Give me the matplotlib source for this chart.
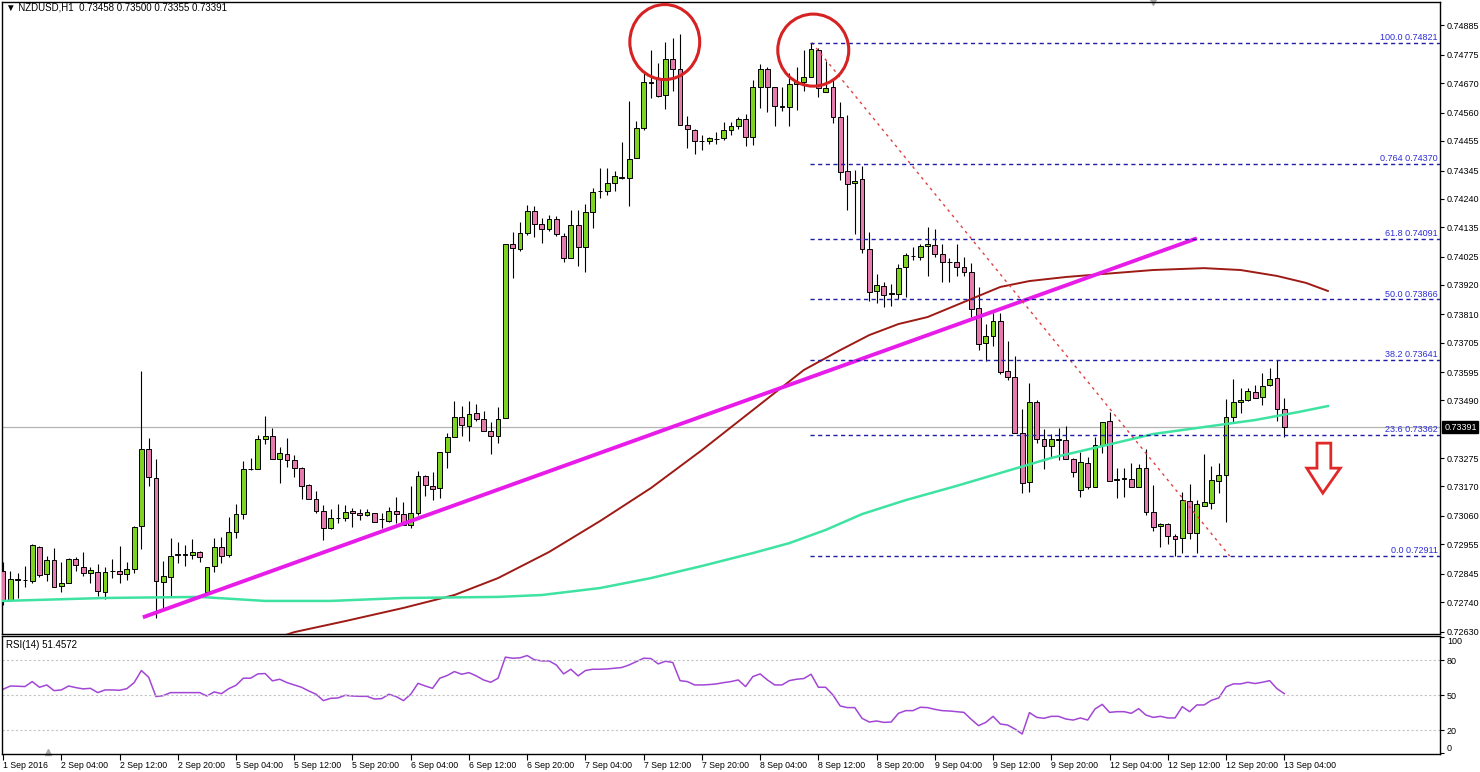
import numpy as np
import matplotlib
matplotlib.use("Agg")
import matplotlib.pyplot as plt
from matplotlib.patches import Ellipse, Polygon

plt.rcParams['font.family'] = ['Liberation Sans', 'DejaVu Sans']

# NZDUSD H1 candles, 1 Sep 20:00 .. 13 Sep 04:00
opens = [
    0.72856, 0.72747, 0.72824, 0.72821, 0.72819, 0.72946, 0.72844, 0.72896, 0.72800, 0.72812,
    0.72899, 0.72871, 0.72847, 0.72851, 0.72776, 0.72855, 0.72854, 0.72843, 0.72864, 0.73023,
    0.73308, 0.73200, 0.72815, 0.72834, 0.72916, 0.72917, 0.72915, 0.72927, 0.72778, 0.72875,
    0.72946, 0.72915, 0.73001, 0.73066, 0.73234, 0.73234, 0.73345, 0.73358, 0.73271, 0.73289,
    0.73268, 0.73240, 0.73175, 0.73122, 0.73080, 0.73014, 0.73051, 0.73051, 0.73078, 0.73072,
    0.73064, 0.73070, 0.73047, 0.73042, 0.73080, 0.73067, 0.73026, 0.73072, 0.73209, 0.73171,
    0.73163, 0.73297, 0.73353, 0.73429, 0.73396, 0.73442, 0.73420, 0.73377, 0.73359, 0.73423,
    0.74071, 0.74052, 0.74112, 0.74196, 0.74146, 0.74128, 0.74164, 0.74102, 0.74019, 0.74143,
    0.74060, 0.74192, 0.74268, 0.74270, 0.74298, 0.74320, 0.74316, 0.74391, 0.74502, 0.74674,
    0.74685, 0.74627, 0.74759, 0.74723, 0.74515, 0.74496, 0.74456, 0.74455, 0.74462, 0.74465,
    0.74496, 0.74511, 0.74536, 0.74471, 0.74655, 0.74722, 0.74655, 0.74584, 0.74580, 0.74666,
    0.74676, 0.74694, 0.74794, 0.74639, 0.74655, 0.74546, 0.74344, 0.74298, 0.74314, 0.74053,
    0.73897, 0.73916, 0.73889, 0.73886, 0.73987, 0.74028, 0.74022, 0.74065, 0.74068, 0.74034,
    0.74004, 0.74004, 0.73985, 0.73969, 0.73833, 0.73705, 0.73730, 0.73785, 0.73600, 0.73576,
    0.73368, 0.73185, 0.73483, 0.73345, 0.73321, 0.73345, 0.73343, 0.73271, 0.73157, 0.73256,
    0.73169, 0.73324, 0.73413, 0.73195, 0.73199, 0.73196, 0.73169, 0.73237, 0.73074, 0.73023,
    0.73029, 0.72987, 0.72979, 0.73116, 0.72998, 0.73097, 0.73110, 0.73191, 0.73212, 0.73427,
    0.73483, 0.73491, 0.73522, 0.73501, 0.73547, 0.73572, 0.73458,
]
highs = [
    0.72890, 0.72855, 0.72847, 0.72874, 0.72955, 0.72948, 0.72911, 0.72942, 0.72888, 0.72902,
    0.72908, 0.72927, 0.72871, 0.72881, 0.72871, 0.72899, 0.72948, 0.72890, 0.73023, 0.73599,
    0.73351, 0.73272, 0.72892, 0.72979, 0.72963, 0.72952, 0.72973, 0.72931, 0.72871, 0.72977,
    0.72981, 0.73057, 0.73104, 0.73266, 0.73275, 0.73362, 0.73432, 0.73386, 0.73315, 0.73349,
    0.73287, 0.73243, 0.73179, 0.73153, 0.73101, 0.73085, 0.73104, 0.73101, 0.73091, 0.73085,
    0.73085, 0.73072, 0.73070, 0.73094, 0.73129, 0.73111, 0.73171, 0.73227, 0.73212, 0.73222,
    0.73297, 0.73368, 0.73488, 0.73470, 0.73489, 0.73475, 0.73451, 0.73408, 0.73464, 0.74071,
    0.74115, 0.74155, 0.74217, 0.74213, 0.74168, 0.74180, 0.74176, 0.74114, 0.74198, 0.74198,
    0.74221, 0.74281, 0.74354, 0.74356, 0.74345, 0.74450, 0.74604, 0.74530, 0.74713, 0.74794,
    0.74744, 0.74822, 0.74837, 0.74853, 0.74549, 0.74500, 0.74478, 0.74471, 0.74490, 0.74527,
    0.74524, 0.74546, 0.74555, 0.74682, 0.74741, 0.74732, 0.74657, 0.74657, 0.74707, 0.74732,
    0.74794, 0.74821, 0.74800, 0.74753, 0.74688, 0.74599, 0.74552, 0.74347, 0.74362, 0.74118,
    0.73960, 0.73932, 0.73923, 0.73998, 0.74040, 0.74062, 0.74071, 0.74136, 0.74128, 0.74071,
    0.74019, 0.74071, 0.74025, 0.74002, 0.73911, 0.73773, 0.73814, 0.73816, 0.73711, 0.73656,
    0.73458, 0.73554, 0.73491, 0.73382, 0.73364, 0.73388, 0.73396, 0.73275, 0.73297, 0.73278,
    0.73355, 0.73411, 0.73448, 0.73237, 0.73237, 0.73258, 0.73253, 0.73308, 0.73175, 0.73035,
    0.73035, 0.72992, 0.73148, 0.73178, 0.73119, 0.73289, 0.73246, 0.73256, 0.73494, 0.73568,
    0.73535, 0.73535, 0.73547, 0.73593, 0.73609, 0.73640, 0.73500,
]
lows = [
    0.72729, 0.72745, 0.72754, 0.72797, 0.72812, 0.72834, 0.72819, 0.72795, 0.72778, 0.72812,
    0.72856, 0.72837, 0.72809, 0.72762, 0.72750, 0.72828, 0.72812, 0.72822, 0.72847, 0.72937,
    0.73171, 0.72679, 0.72716, 0.72762, 0.72884, 0.72874, 0.72899, 0.72888, 0.72778, 0.72853,
    0.72884, 0.72908, 0.72977, 0.73049, 0.73231, 0.73234, 0.73327, 0.73271, 0.73182, 0.73241,
    0.73206, 0.73122, 0.73122, 0.73070, 0.72971, 0.73010, 0.73035, 0.73041, 0.73018, 0.73045,
    0.73060, 0.73036, 0.73014, 0.73039, 0.73035, 0.73026, 0.73016, 0.73064, 0.73134, 0.73119,
    0.73128, 0.73237, 0.73353, 0.73359, 0.73339, 0.73413, 0.73377, 0.73289, 0.73333, 0.73423,
    0.73944, 0.74047, 0.74105, 0.74099, 0.74077, 0.74121, 0.74102, 0.74004, 0.74019, 0.73990,
    0.73967, 0.74130, 0.74244, 0.74254, 0.74269, 0.74313, 0.74214, 0.74391, 0.74496, 0.74614,
    0.74620, 0.74574, 0.74642, 0.74515, 0.74428, 0.74406, 0.74422, 0.74444, 0.74444, 0.74459,
    0.74478, 0.74500, 0.74438, 0.74440, 0.74579, 0.74562, 0.74512, 0.74567, 0.74512, 0.74571,
    0.74642, 0.74694, 0.74620, 0.74639, 0.74521, 0.74310, 0.74198, 0.74109, 0.74037, 0.73861,
    0.73851, 0.73836, 0.73842, 0.73867, 0.73876, 0.74012, 0.74012, 0.73954, 0.74022, 0.73929,
    0.73932, 0.73953, 0.73953, 0.73801, 0.73678, 0.73638, 0.73692, 0.73587, 0.73566, 0.73368,
    0.73144, 0.73150, 0.73333, 0.73235, 0.73275, 0.73268, 0.73271, 0.73206, 0.73132, 0.73159,
    0.73169, 0.73295, 0.73191, 0.73126, 0.73129, 0.73169, 0.73169, 0.73064, 0.73005, 0.72943,
    0.72956, 0.72911, 0.72923, 0.72974, 0.72921, 0.73097, 0.73085, 0.73147, 0.73039, 0.73407,
    0.73444, 0.73489, 0.73498, 0.73473, 0.73544, 0.73414, 0.73355,
]
closes = [
    0.72747, 0.72824, 0.72822, 0.72822, 0.72951, 0.72840, 0.72896, 0.72797, 0.72812, 0.72899,
    0.72876, 0.72847, 0.72858, 0.72781, 0.72851, 0.72857, 0.72843, 0.72864, 0.73020, 0.73308,
    0.73204, 0.72819, 0.72838, 0.72912, 0.72917, 0.72916, 0.72927, 0.72908, 0.72869, 0.72946,
    0.72913, 0.73001, 0.73066, 0.73234, 0.73236, 0.73345, 0.73358, 0.73271, 0.73293, 0.73268,
    0.73238, 0.73171, 0.73122, 0.73080, 0.73014, 0.73051, 0.73052, 0.73076, 0.73070, 0.73064,
    0.73076, 0.73036, 0.73048, 0.73080, 0.73066, 0.73026, 0.73072, 0.73209, 0.73175, 0.73159,
    0.73297, 0.73353, 0.73429, 0.73398, 0.73438, 0.73420, 0.73377, 0.73359, 0.73420, 0.74071,
    0.74058, 0.74112, 0.74196, 0.74146, 0.74128, 0.74164, 0.74108, 0.74019, 0.74143, 0.74060,
    0.74192, 0.74267, 0.74270, 0.74298, 0.74325, 0.74318, 0.74388, 0.74505, 0.74674, 0.74672,
    0.74623, 0.74759, 0.74723, 0.74515, 0.74499, 0.74456, 0.74455, 0.74467, 0.74464, 0.74496,
    0.74512, 0.74536, 0.74471, 0.74655, 0.74722, 0.74655, 0.74585, 0.74582, 0.74666, 0.74676,
    0.74694, 0.74796, 0.74651, 0.74653, 0.74546, 0.74341, 0.74294, 0.74307, 0.74053, 0.73894,
    0.73919, 0.73882, 0.73887, 0.73984, 0.74031, 0.74027, 0.74065, 0.74071, 0.74035, 0.74004,
    0.74003, 0.73985, 0.73969, 0.73829, 0.73699, 0.73731, 0.73785, 0.73597, 0.73576, 0.73368,
    0.73184, 0.73485, 0.73345, 0.73321, 0.73345, 0.73343, 0.73271, 0.73222, 0.73260, 0.73169,
    0.73324, 0.73411, 0.73191, 0.73197, 0.73201, 0.73169, 0.73237, 0.73074, 0.73018, 0.73029,
    0.72987, 0.72974, 0.73119, 0.72998, 0.73103, 0.73111, 0.73194, 0.73212, 0.73429, 0.73485,
    0.73491, 0.73526, 0.73500, 0.73545, 0.73570, 0.73458, 0.73391,
]

rsi = [
    55.2, 58.0, 57.8, 57.5, 61.8, 56.9, 58.9, 54.0, 54.6, 58.0,
    56.6, 55.5, 56.0, 52.3, 54.6, 54.6, 54.3, 55.7, 60.9, 71.3,
    65.5, 48.9, 49.7, 52.3, 52.3, 52.3, 52.3, 52.3, 49.4, 52.9,
    51.4, 55.7, 58.6, 64.7, 64.7, 68.4, 68.7, 62.4, 63.8, 60.9,
    58.9, 56.9, 53.7, 50.9, 45.4, 47.4, 47.7, 50.0, 49.4, 49.1,
    49.1, 46.8, 47.1, 50.9, 48.9, 45.4, 50.9, 60.3, 58.0, 56.0,
    64.7, 67.0, 70.4, 68.1, 69.5, 66.7, 63.2, 61.2, 64.7, 82.8,
    81.9, 82.2, 84.2, 80.5, 79.6, 79.6, 76.1, 68.4, 72.4, 66.7,
    71.3, 72.4, 72.4, 72.7, 73.3, 73.9, 76.1, 79.0, 81.9, 81.6,
    77.0, 79.3, 78.2, 62.6, 61.8, 58.9, 58.9, 59.2, 59.8, 60.9,
    61.8, 63.2, 57.5, 66.1, 68.4, 63.2, 58.9, 58.9, 62.6, 63.8,
    64.4, 68.1, 56.9, 56.9, 50.3, 40.8, 39.4, 39.4, 30.2, 27.0,
    27.9, 26.7, 27.0, 34.5, 36.8, 36.8, 39.7, 39.4, 37.9, 36.8,
    36.5, 35.9, 35.3, 29.3, 23.9, 26.7, 31.9, 25.3, 24.4, 21.0,
    16.7, 35.1, 31.0, 30.2, 31.9, 31.9, 29.6, 28.7, 30.5, 28.7,
    38.2, 42.2, 35.3, 35.9, 35.9, 34.5, 38.5, 33.0, 31.0, 31.9,
    30.5, 30.5, 40.2, 35.9, 41.7, 41.7, 45.7, 47.7, 57.2, 59.8,
    59.8, 61.2, 60.1, 61.2, 62.6, 55.7, 51.46,
]

# moving averages (shifted forward), sampled along the curve: bar index -> price
ma_green_x = [0, 14, 27, 36, 45, 55, 68, 74, 82, 89, 96, 103, 108, 113, 118, 124,
              131, 137, 144, 151, 158, 165, 172, 178, 182]
ma_green_y = [0.72744, 0.72755, 0.72759, 0.72744, 0.72744, 0.72755, 0.72759, 0.72766,
              0.72792, 0.72829, 0.72874, 0.72922, 0.72959, 0.73008, 0.73067, 0.73119,
              0.73172, 0.73220, 0.73276, 0.73320, 0.73365, 0.73391, 0.73417, 0.73447, 0.73469]
ma_brown_x = [38, 40, 47, 55, 62, 68, 75, 82, 89, 96, 103, 110, 115, 119, 123, 127,
              132, 137, 141, 146, 151, 158, 165, 170, 175, 179, 182]
ma_brown_y = [0.72610, 0.72628, 0.72669, 0.72718, 0.72766, 0.72829, 0.72926, 0.73041,
              0.73164, 0.73305, 0.73454, 0.73603, 0.73677, 0.73733, 0.73774, 0.73800,
              0.73856, 0.73912, 0.73934, 0.73949, 0.73960, 0.73975, 0.73982, 0.73975,
              0.73953, 0.73927, 0.73897]

# drawn objects
trend_x = [19.2, 164.0]
trend_y = [0.72683, 0.74093]
fib_start = 110.9
fib_levels = [0.74821, 0.74370, 0.74091, 0.73866, 0.73641, 0.73362, 0.72911]
fib_texts = ['100.0 0.74821', '0.764 0.74370', '61.8 0.74091', '50.0 0.73866',
             '38.2 0.73641', '23.6 0.73362', '0.0 0.72911']
dotted_x = [111.1, 168.5]
dotted_y = [0.74821, 0.72911]
circle_x = [90.9, 111.3]
circle_y = [0.74823, 0.74793]
arrow_x = [180.5, 182.4, 182.4, 183.7, 181.3, 179.1, 180.5]
arrow_y = [0.73331, 0.73331, 0.73238, 0.73238, 0.73145, 0.73238, 0.73238]
last_price = 0.73391

price_ticks = [0.74885, 0.74775, 0.74670, 0.74560, 0.74455, 0.74345, 0.74240, 0.74135,
               0.74025, 0.73920, 0.73810, 0.73705, 0.73595, 0.73490, 0.73275, 0.73170,
               0.73060, 0.72955, 0.72845, 0.72740, 0.72630]
time_labels = ['1 Sep 2016', '2 Sep 04:00', '2 Sep 12:00', '2 Sep 20:00', '5 Sep 04:00',
               '5 Sep 12:00', '5 Sep 20:00', '6 Sep 04:00', '6 Sep 12:00', '6 Sep 20:00',
               '7 Sep 04:00', '7 Sep 12:00', '7 Sep 20:00', '8 Sep 04:00', '8 Sep 12:00',
               '8 Sep 20:00', '9 Sep 04:00', '9 Sep 12:00', '9 Sep 20:00', '12 Sep 04:00',
               '12 Sep 12:00', '12 Sep 20:00', '13 Sep 04:00']

o = np.array(opens)
h = np.array(highs)
l = np.array(lows)
c = np.array(closes)
x = np.arange(len(c))
xmax = 197.4

fig = plt.figure(figsize=(14.8, 7.72), dpi=100)
ax = fig.add_axes([2/1480, 138/772, 1438/1480, 632/772])
rax = fig.add_axes([2/1480, 18/772, 1438/1480, 118/772])

# candles
bull = c >= o
cols = np.where(bull, '#7ED321', '#E47AAE')
ax.vlines(x, l, h, color='black', lw=0.8, zorder=2)
ax.bar(x, np.maximum(np.abs(c - o), 0.000015), bottom=np.minimum(o, c), width=0.66,
       color=cols, edgecolor='black', linewidth=0.7, zorder=3)

ax.axhline(last_price, color='#B4B4B4', lw=0.9, zorder=1)
ax.plot(ma_brown_x, ma_brown_y, color='#9E1A14', lw=1.4, zorder=4)
ax.plot(ma_green_x, ma_green_y, color='#3EE3A2', lw=1.8, zorder=4)
ax.plot(trend_x, trend_y, color='#E81CE8', lw=2.8, zorder=5, solid_capstyle='butt')
ax.plot(dotted_x, dotted_y, color='#E04040', lw=1, ls=(0, (2, 3)), zorder=5)

for lv, txt in zip(fib_levels, fib_texts):
    ax.plot([fib_start, xmax], [lv, lv], color='#1E1EA8', lw=1, ls=(0, (3, 2.5)), zorder=5)
    ax.text(xmax - 0.3, lv + 0.00003, txt, ha='right', va='bottom', color='#2C2CD8',
            fontsize=6.5, zorder=6)

for cx, cy, w, hh in zip(circle_x, circle_y, [9.6, 9.75], [0.00279, 0.00268]):
    ax.add_patch(Ellipse((cx, cy), w, hh, fill=False, ec='#D62222', lw=2.2, zorder=6))

ax.add_patch(Polygon(list(zip(arrow_x, arrow_y)), closed=True, fc='white',
                     ec='#E02828', lw=2, zorder=6))

ax.set_xlim(-0.15, xmax)
ax.set_ylim(0.72621, 0.74972)
ax.yaxis.tick_right()
ax.set_yticks(price_ticks)
ax.set_yticklabels([f'{v:.5f}' for v in price_ticks])
ax.tick_params(axis='y', length=3, pad=2, labelsize=6.5, width=0.8)
ax.tick_params(axis='x', length=0, labelbottom=False)
for s in ax.spines.values():
    s.set_linewidth(1)

ax.annotate(f'{last_price:.5f}', xy=(1, last_price), xycoords=ax.get_yaxis_transform(),
            xytext=(3, 0), textcoords='offset points', ha='left', va='center',
            fontsize=6.5, color='white',
            bbox=dict(boxstyle='square,pad=0.2', fc='black', ec='black'))

fig.text(6/1480, 1 - 8/772, '\u25bc NZDUSD,H1  0.73458 0.73500 0.73355 0.73391',
         fontsize=7, va='center', ha='left')

# RSI panel
rax.plot(x, rsi, color='#A246D6', lw=1.1)
for v in (80, 50, 20):
    rax.axhline(v, color='#C4C4C4', lw=0.8, ls=(0, (2, 2)))
rax.set_xlim(-0.15, xmax)
rax.set_ylim(-0.5, 101)
rax.yaxis.tick_right()
rax.set_yticks([0, 20, 50, 80, 100])
rax.set_yticklabels(['0', '20', '50', '80', '100'])
rax.tick_params(axis='y', length=3, pad=2, labelsize=6.5, width=0.8)
yl = rax.get_yticklabels()
yl[0].set_va('bottom')
yl[-1].set_va('top')
rax.set_xticks(np.arange(0, len(c), 8))
rax.set_xticklabels(time_labels)
rax.tick_params(axis='x', length=4, pad=1, labelsize=6.3, width=0.8)
plt.setp(rax.get_xticklabels(), ha='left')
rax.text(0.003, 0.92, 'RSI(14) 51.4572', transform=rax.transAxes, fontsize=7,
         va='center', ha='left')
for s in rax.spines.values():
    s.set_linewidth(1)

# small terminal markers
rax.plot([6.2], [1.5], marker='^', color='#A8A8A8', ms=5, clip_on=False)
ax.plot([158], [0.74972], marker='v', color='#A8A8A8', ms=5, clip_on=False)

fig.savefig('out.png', dpi=100)
